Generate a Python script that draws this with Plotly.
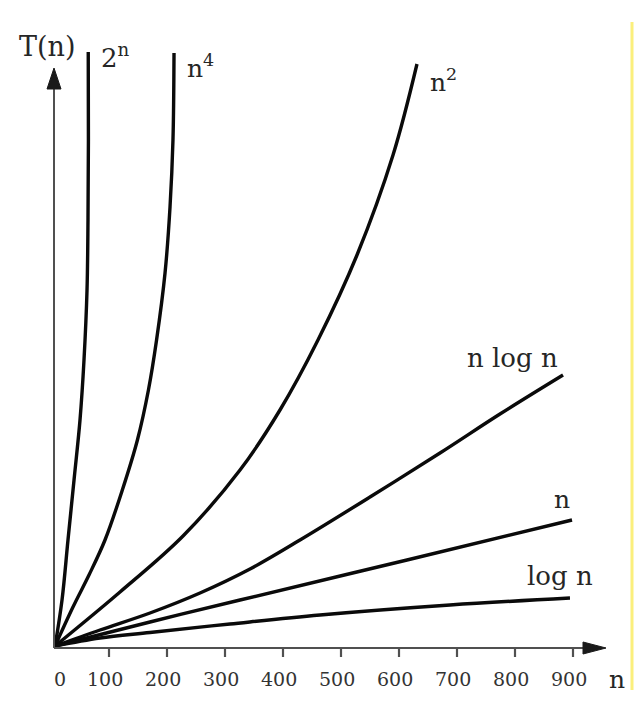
import plotly.graph_objects as go

# ---- data (n on x, T(n) in arbitrary units) ----
exp2_n = [7, 19.0, 29.3, 39.7, 50.0, 56.9, 62.1, 63.8, 64.5, 64.2]
exp2_T = [2, 48, 108, 168, 228, 288, 358, 428, 508, 596]

pow4_n = [7, 37.9, 65.5, 93.1, 123.0, 149.0, 168.0, 182.0, 196.6, 205.2, 210.3, 212.1]
pow4_T = [2, 41, 73, 108, 158, 208, 258, 308, 375, 441, 508, 595]

pow2_n = [7, 119.0, 227.6, 325.9, 394.8, 460.3, 527.6, 589.7, 631.0]
pow2_T = [2, 56, 112, 178, 238, 308, 393, 493, 584]

nlogn_n = [7, 84.5, 170.7, 256.9, 343.1, 429.3, 550.0, 670.7, 774.1, 882.8]
nlogn_T = [2, 18, 35, 55, 79, 108, 151, 195, 234, 273]

lin_n = [7, 170.7, 325.9, 613.8, 898.3]
lin_T = [2, 26, 48, 88, 128]

logn_n = [7, 84.5, 170.7, 308.6, 463.8, 687.9, 894.8]
logn_T = [2, 10, 15.5, 24, 33, 43, 50]

tick_values = [0, 100, 200, 300, 400, 500, 600, 700, 800, 900]
tick_labels = ["0", "100", "200", "300", "400", "500", "600", "700", "800", "900"]

# ---- layout helpers: screen pixel -> data mapping ----
WIN_W, WIN_H = 643, 703
BODY = 8                      # default page margin around the plot div
W, H = WIN_W - 2 * BODY, WIN_H - 2 * BODY
X0PX, XSCALE = 51.0, 0.58
Y0PX = 648.0


def px2x(px):
    return (px - X0PX) / XSCALE


def py2y(py):
    return Y0PX - py


fig = go.Figure()

curves = [
    (exp2_n, exp2_T),
    (pow4_n, pow4_T),
    (pow2_n, pow2_T),
    (nlogn_n, nlogn_T),
    (lin_n, lin_T),
    (logn_n, logn_T),
]
for xs, ys in curves:
    fig.add_trace(go.Scatter(
        x=xs, y=ys, mode="lines",
        line=dict(color="#0a0a0a", width=3.4, shape="spline", smoothing=1.0),
        hoverinfo="skip", showlegend=False,
    ))

AX = "#505050"
shapes = []
shapes.append(dict(type="line", xref="x", yref="y",
                   x0=px2x(54), y0=py2y(648), x1=px2x(54), y1=py2y(85),
                   line=dict(color=AX, width=2)))
shapes.append(dict(type="line", xref="x", yref="y",
                   x0=px2x(54), y0=py2y(648), x1=px2x(590), y1=py2y(648),
                   line=dict(color=AX, width=2)))


def tri(p):
    return "M " + " L ".join(f"{px2x(a)},{py2y(b)}" for a, b in p) + " Z"


shapes.append(dict(type="path", xref="x", yref="y",
                   path=tri([(54, 68), (47, 89), (61, 89)]),
                   fillcolor="#1a1a1a", line=dict(color="#1a1a1a", width=1)))
shapes.append(dict(type="path", xref="x", yref="y",
                   path=tri([(606, 648), (583, 642), (583, 654)]),
                   fillcolor="#1a1a1a", line=dict(color="#1a1a1a", width=1)))
for v in tick_values[1:]:
    shapes.append(dict(type="line", xref="x", yref="y",
                       x0=v, x1=v, y0=0, y1=py2y(657),
                       line=dict(color=AX, width=2.2)))
shapes.append(dict(type="line", xref="x", yref="y",
                   x0=px2x(632), x1=px2x(632), y0=py2y(22), y1=py2y(690),
                   line=dict(color="#fbef7c", width=3)))

TXT = "#262626"
FONT = "DejaVu Serif"
annotations = []
for v, lab in zip(tick_values, tick_labels):
    xoff = 9 if v == 0 else -4
    annotations.append(dict(x=v, y=py2y(679), xref="x", yref="y", text=lab,
                            showarrow=False, xshift=xoff * 1.0,
                            font=dict(family=FONT, size=19, color="#333333")))


def label(text, px, py, size):
    annotations.append(dict(x=px2x(px), y=py2y(py), xref="x", yref="y",
                            text=text, showarrow=False, xanchor="center",
                            yanchor="middle",
                            font=dict(family=FONT, size=size, color=TXT)))


label("T(n)", 47, 46, 27)
label("2<sup>n</sup>", 115, 56, 26)
label("n<sup>4</sup>", 200, 66, 25)
label("n<sup>2</sup>", 443, 80, 25)
label("n log n", 512, 358, 26)
label("n", 562, 499, 25)
label("log n", 560, 576, 26)
label("n", 617, 679, 25)

fig.update_layout(
    width=W, height=H,
    margin=dict(l=0, r=0, t=0, b=0),
    paper_bgcolor="white", plot_bgcolor="white",
    xaxis=dict(range=[px2x(BODY), px2x(BODY + W)], visible=False, fixedrange=True),
    yaxis=dict(range=[py2y(BODY + H), py2y(BODY)], visible=False, fixedrange=True),
    shapes=shapes, annotations=annotations, showlegend=False,
)

fig.write_html("out.html")
